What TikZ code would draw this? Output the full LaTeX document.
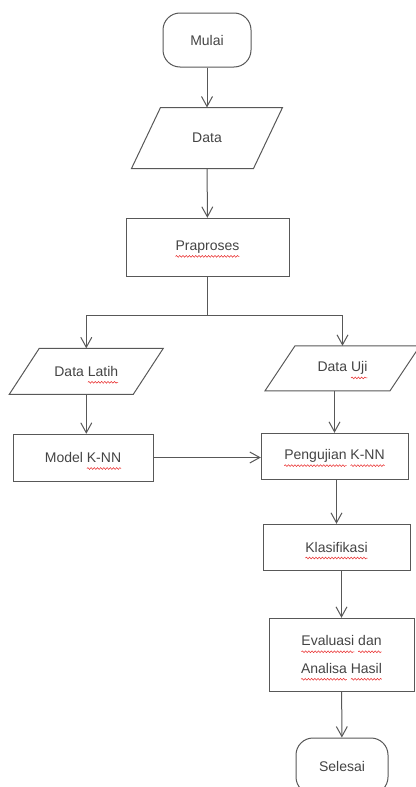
\documentclass[tikz,border=0pt]{standalone}
\usepackage{fontspec}
\setmainfont{Liberation Sans}
\usetikzlibrary{arrows.meta,decorations.pathmorphing}
\definecolor{linegray}{HTML}{585858}
\definecolor{textgray}{HTML}{444444}
\definecolor{wavered}{HTML}{E82828}
\newsavebox\typobox
\newcommand\typo[1]{\sbox\typobox{#1}\rlap{\tikz[overlay]\draw[color=wavered, line width=0.5pt,
    decorate, decoration={snake, amplitude=0.9pt, segment length=3.2pt}] (0pt,-6pt) -- (\the\wd\typobox,-6pt);}\usebox\typobox}

\begin{document}
\begin{tikzpicture}[x=1pt, y=-1pt, line width=1pt,
    every node/.style={text=textgray, font=\fontsize{14}{17}\selectfont},
    terminal/.style={draw=linegray, rounded corners=17pt, minimum width=88pt, minimum height=54pt},
    process/.style={draw=linegray, minimum width=147pt, minimum height=46pt},
    io/.style n args={3}{minimum width=#1, minimum height=#2, outer sep=0pt,
      append after command={\pgfextra{\draw[linegray]
        ([xshift=-#3/2]\tikzlastnode.south west) -- ([xshift=#3/2]\tikzlastnode.north west) --
        ([xshift=#3/2]\tikzlastnode.north east) -- ([xshift=-#3/2]\tikzlastnode.south east) -- cycle;}}},
    flow/.style={draw=linegray, -{Straight Barb[length=10pt,width=11pt]}}]
      \useasboundingbox (0, 0) rectangle (415, 787);
      \node[terminal] (mulai) at (207, 40) {Mulai};
      \node[io={122pt}{61pt}{29pt}] (data) at (207, 138) {Data};
      \node[process, minimum width=163pt, minimum height=58pt] (praproses) at (207.5, 247) {\typo{Praproses}};
      \coordinate (cabang) at (207.5, 315);
      \node[io={124pt}{46pt}{30pt}] (latih) at (86.3, 371.3) {Data \typo{Latih}};
      \node[io={125pt}{45pt}{30pt}] (uji) at (342.5, 368.3) {Data \typo{Uji}};
      \node[process, minimum width=140pt, minimum height=47pt] (model) at (83, 457.5) {Model \typo{K-NN}};
      \node[process] (pengujian) at (334.5, 456) {\typo{Pengujian} \typo{K-NN}};
      \node[process] (klasifikasi) at (336.5, 547) {\typo{Klasifikasi}};
      \node[process, minimum width=145pt, minimum height=73pt, align=center,
        font=\fontsize{14}{27.5}\selectfont] (evaluasi) at (341.5, 654.5) {\typo{Evaluasi} \typo{dan}\\\typo{Analisa} \typo{Hasil}};
      \node[terminal, minimum width=92pt, minimum height=56pt] (selesai) at (342, 766) {Selesai};
      \draw[flow] (mulai) to (data);
      \draw[flow] (data) to (praproses);
      \draw[draw=linegray] (praproses) to (cabang);
      \draw[flow] (cabang) -| (latih);
      \draw[flow] (cabang) -| (uji);
      \draw[flow] (latih.south) to (latih.south |- model.north);
      \draw[flow] (uji.south -| pengujian) to (pengujian);
      \draw[flow] (model) to (model -| pengujian.west);
      \draw[flow] (pengujian.south -| klasifikasi) to (klasifikasi);
      \draw[flow] (klasifikasi.south -| evaluasi) to (evaluasi);
      \draw[flow] (evaluasi) to (selesai);
    \end{tikzpicture}
\end{document}
